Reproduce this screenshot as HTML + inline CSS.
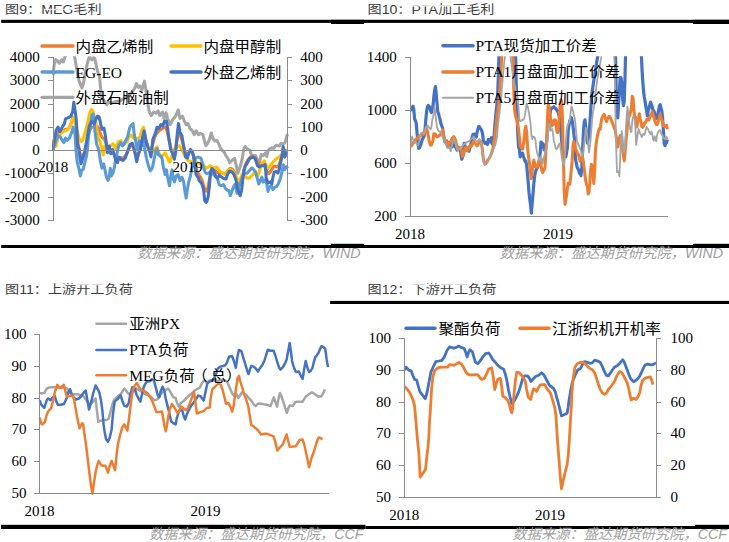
<!DOCTYPE html>
<html lang="zh"><head><meta charset="utf-8"><title>charts</title>
<style>html,body{margin:0;padding:0;background:#fff}svg{display:block}</style></head>
<body>
<svg width="729" height="542" viewBox="0 0 729 542">
<rect x="0" y="0" width="729" height="542" fill="#fff"/>
<text transform="translate(5,13.9) scale(1,0.87)" font-size="14.15" font-family='"Liberation Sans","Noto Sans CJK SC",sans-serif' fill="#3d3d3d">图9：MEG毛利</text>
<text transform="translate(367.5,13.9) scale(1,0.87)" font-size="14.15" font-family='"Liberation Sans","Noto Sans CJK SC",sans-serif' fill="#3d3d3d">图10：PTA加工毛利</text>
<text transform="translate(5,294.1) scale(1,0.87)" font-size="14.15" font-family='"Liberation Sans","Noto Sans CJK SC",sans-serif' fill="#3d3d3d">图11：上游开工负荷</text>
<text transform="translate(367.5,294.1) scale(1,0.87)" font-size="14.15" font-family='"Liberation Sans","Noto Sans CJK SC",sans-serif' fill="#3d3d3d">图12：下游开工负荷</text>
<rect x="44" y="8.8" width="30" height="1.2" fill="#fff" fill-opacity="0.8"/>
<rect x="400" y="5.0" width="70" height="1.6" fill="#fff" fill-opacity="0.8"/>
<rect x="58" y="284.0" width="50" height="1.2" fill="#fff" fill-opacity="0.8"/>
<rect x="402" y="284.0" width="68" height="1.2" fill="#fff" fill-opacity="0.8"/>
<rect x="1.2" y="19.8" width="727.8" height="3.1" fill="#000"/>
<rect x="331" y="19.8" width="33" height="4.2" fill="#000"/>
<rect x="693" y="19.8" width="36" height="4.2" fill="#000"/>
<rect x="1.2" y="245.0" width="727.8" height="3.0" fill="#000"/>
<rect x="331" y="243.8" width="33" height="4.2" fill="#000"/>
<rect x="693" y="243.8" width="36" height="4.2" fill="#000"/>
<rect x="330.1" y="300.9" width="398.9" height="3.1" fill="#000"/>
<rect x="1" y="524.8" width="364.5" height="4.2" fill="#000"/>
<rect x="365.5" y="526.0" width="363.5" height="3.0" fill="#000"/>
<rect x="695" y="524.8" width="34" height="4.2" fill="#000"/>
<text transform="translate(360.5,257.6) scale(1,1.0)" font-size="14.25" text-anchor="end" font-family='"Liberation Sans","Noto Sans CJK SC",sans-serif' fill="#a0a0a0" font-style="italic">数据来源：盛达期货研究院，WIND</text>
<text transform="translate(723,257.6) scale(1,1.0)" font-size="14.25" text-anchor="end" font-family='"Liberation Sans","Noto Sans CJK SC",sans-serif' fill="#a0a0a0" font-style="italic">数据来源：盛达期货研究院，WIND</text>
<text transform="translate(363.5,539) scale(1,1.0)" font-size="14.25" text-anchor="end" font-family='"Liberation Sans","Noto Sans CJK SC",sans-serif' fill="#a0a0a0" font-style="italic">数据来源：盛达期货研究院，CCF</text>
<text transform="translate(727,539) scale(1,1.0)" font-size="14.25" text-anchor="end" font-family='"Liberation Sans","Noto Sans CJK SC",sans-serif' fill="#a0a0a0" font-style="italic">数据来源：盛达期货研究院，CCF</text>
<defs><clipPath id="cp1"><rect x="52" y="56.3" width="237" height="172"/></clipPath><clipPath id="cp2"><rect x="410" y="56.3" width="260" height="165"/></clipPath></defs>
<g clip-path="url(#cp1)">
<polyline points="53.1,75.0 54.0,66.0 55.6,59.5 57.4,61.0 59.3,63.3 61.5,59.8 63.4,62.0 64.5,58.0 66.0,55.0 70.0,48.0 74.3,55.0 75.5,62.0 77.2,71.4 78.8,80.0 80.5,84.6 82.0,88.0 83.5,83.0 85.3,73.0 87.0,64.8 88.5,59.0 89.5,56.5 90.8,59.0 92.0,59.9 93.5,57.5 94.6,58.5 96.0,64.0 97.2,70.0 98.5,74.0 99.6,77.4 100.6,88.5 101.8,97.2 104.3,100.9 106.7,104.6 108.6,102.1 112.0,103.0 116.0,101.5 119.7,100.9 123.0,99.0 127.1,97.2 130.0,94.0 132.1,92.2 134.6,88.5 136.4,83.6 138.3,87.3 140.1,86.1 142.0,89.8 144.4,81.1 145.7,88.5 146.9,97.2 148.2,105.8 149.4,112.0 151.2,115.7 153.7,112.0 156.2,113.3 158.0,110.8 159.9,115.7 162.4,112.0 164.2,118.2 166.1,112.8 167.6,118.5 170.1,124.7 172.6,119.8 175.7,116.1 178.2,109.9 180.0,118.5 182.5,116.1 184.3,121.0 186.2,124.7 188.0,123.5 189.9,128.4 192.4,130.9 194.2,134.6 196.1,130.9 198.5,134.6 200.4,133.4 202.9,134.6 204.7,142.0 206.0,145.7 207.5,143.5 209.3,139.8 211.2,133.0 213.0,138.5 214.9,141.0 216.7,140.4 218.6,143.5 220.5,148.4 222.3,150.3 224.2,152.1 226.0,155.8 227.9,158.3 229.7,162.6 231.6,160.8 234.7,158.3 236.5,167.0 237.8,173.2 239.6,168.2 241.5,162.0 242.7,155.8 243.9,148.4 245.2,146.6 247.6,149.0 250.1,150.3 251.4,155.8 253.2,155.2 255.7,155.8 257.5,160.8 258.8,165.7 260.0,159.6 261.2,154.6 263.1,155.8 265.6,152.8 266.8,156.5 268.0,150.9 269.3,149.0 271.7,147.8 273.6,148.4 276.1,145.3 279.2,146.0 281.0,143.5 283.5,144.1 285.3,142.2 286.6,136.7 287.6,134.0" fill="none" stroke="#a5a5a5" stroke-width="3.05" stroke-linejoin="round" stroke-linecap="butt" />
<polyline points="53.0,146.8 54.2,142.6 55.4,138.0 56.6,134.3 57.8,132.8 59.0,132.6 60.2,132.7 61.4,132.2 62.6,131.2 63.8,130.2 65.0,129.5 66.2,129.3 67.4,129.2 68.6,128.5 69.8,126.7 71.0,123.6 72.2,119.9 73.4,117.3 74.6,118.6 75.8,124.8 77.0,134.1 78.2,143.8 79.4,151.1 80.6,155.9 81.8,157.1 83.0,155.8 84.2,152.4 85.4,147.8 86.6,142.6 87.8,137.2 89.0,132.5 90.2,129.3 91.4,127.5 92.6,127.0 93.8,126.8 95.0,126.3 96.2,125.7 97.4,126.2 98.6,128.4 99.8,132.0 101.0,135.5 102.2,137.4 103.4,138.2 104.6,139.8 105.8,142.8 107.0,146.3 108.2,148.7 109.4,149.7 110.6,150.6 111.8,151.2 113.0,152.5 114.2,154.4 115.4,156.8 116.6,158.2 117.8,158.4 119.0,157.8 120.2,157.6 121.4,157.8 122.6,158.0 123.8,157.6 125.0,156.3 126.2,154.2 127.4,151.6 128.6,149.0 129.8,146.7 131.0,145.6 132.2,146.0 133.4,148.1 134.6,151.3 135.8,154.3 137.0,155.4 138.2,154.2 139.4,151.3 140.6,147.5 141.8,143.0 143.0,139.5 144.2,138.1 145.4,139.9 146.6,143.2 147.8,146.9 149.0,149.7 150.2,150.5 151.4,148.8 152.6,144.7 153.8,140.3 155.0,136.6 156.2,134.1 157.4,132.3 158.6,131.1 159.8,130.3 161.0,129.6 162.2,128.8 163.4,127.8 164.6,127.0 165.8,127.7 167.0,130.8 168.2,136.1 169.4,142.0 170.6,147.2 171.8,151.1 173.0,153.4 174.2,153.2 175.4,149.4 176.6,142.9 177.8,136.8 179.0,134.0 180.2,135.0 181.4,138.1 182.6,142.5 183.8,147.2 185.0,151.6 186.2,154.2 187.4,154.7 188.6,153.4 189.8,151.8 191.0,151.3 192.2,152.8 193.4,156.4 194.6,161.4 195.8,166.7 197.0,170.8 198.2,173.5 199.4,175.5 200.6,177.3 201.8,179.8 203.0,183.3 204.2,187.5 205.4,190.7 206.6,191.0 207.8,187.8 209.0,181.7 210.2,174.9 211.4,169.8 212.6,167.7 213.8,168.3 215.0,170.2 216.2,171.8 217.4,172.6 218.6,172.5 219.8,172.3 221.0,172.4 222.2,173.0 223.4,173.6 224.6,173.7 225.8,173.1 227.0,171.7 228.2,170.0 229.4,168.8 230.6,168.4 231.8,168.9 233.0,170.0 234.2,171.9 235.4,174.8 236.6,178.4 237.8,182.1 239.0,184.7 240.2,185.0 241.4,182.0 242.6,176.5 243.8,170.4 245.0,165.7 246.2,162.7 247.4,160.7 248.6,159.0 249.8,157.7 251.0,156.8 252.2,156.4 253.4,156.6 254.6,157.6 255.8,159.3 257.0,161.3 258.2,162.8 259.4,163.6 260.6,163.6 261.8,163.3 263.0,163.3 264.2,164.5 265.4,167.3 266.6,171.0 267.8,173.3 269.0,173.5 270.2,172.1 271.4,170.1 272.6,168.0 273.8,166.4 275.0,166.0 276.2,166.6 277.4,166.9 278.6,165.9 279.8,162.9 281.0,158.6 282.2,155.0 283.4,152.9 284.6,152.3 285.8,150.4 287.0,150.0" fill="none" stroke="#ed7d31" stroke-width="3.05" stroke-linejoin="round" stroke-linecap="butt" />
<polyline points="52.8,139.0 54.4,147.0 56.1,145.9 57.7,139.2 60.5,133.7 63.3,131.5 66.0,130.4 68.3,129.3 70.5,126.0 72.7,118.2 73.8,117.1 75.0,121.0 76.5,128.2 79.3,139.2 81.5,141.5 83.2,139.2 85.4,131.5 87.6,122.7 89.8,112.7 91.5,109.4 93.1,111.6 94.2,116.0 95.4,118.2 96.5,128.2 98.1,138.1 99.8,141.5 102.0,148.3 103.1,155.0 104.2,151.6 104.8,146.0 107.0,147.5 110.3,146.0 113.1,143.8 115.3,148.3 116.4,145.0 118.6,141.6 120.8,140.5 122.5,144.8 125.0,143.3 126.9,142.0 128.7,137.1 131.0,135.0 133.5,138.0 135.5,139.6 137.4,138.3 139.8,137.1 141.7,130.9 143.5,127.2 145.4,137.1 147.2,144.5 149.7,149.4 152.8,151.9 155.3,148.2 157.1,147.0 159.0,153.2 160.8,156.9 162.7,155.6 165.2,152.8 167.0,156.5 168.9,161.4 170.1,162.0 171.4,157.3 174.4,149.4 176.9,147.0 179.4,145.7 181.2,148.2 183.0,152.0 185.5,157.0 188.0,160.6 191.7,161.8 195.0,162.5 198.0,163.0 201.0,164.0 204.1,166.0 206.0,168.4 207.8,167.2 209.9,165.7 212.4,167.0 214.9,168.2 216.7,167.0 218.6,169.4 220.5,171.9 222.9,173.2 224.8,174.4 227.2,171.9 229.7,169.4 232.2,170.7 234.7,174.4 236.5,178.1 238.4,180.6 240.2,179.3 242.1,174.4 244.6,175.6 247.0,178.1 249.5,178.1 252.0,175.6 253.8,173.2 255.7,173.2 258.2,175.6 260.0,169.4 261.9,163.3 264.3,160.8 266.2,165.7 268.0,168.2 270.5,165.7 273.0,162.0 276.1,158.9 279.2,157.1 281.0,155.2 284.0,152.0 286.6,155.8 287.5,156.0" fill="none" stroke="#ffc000" stroke-width="3.05" stroke-linejoin="round" stroke-linecap="butt" />
<polyline points="53.0,150.0 54.0,146.0 56.0,140.0 58.3,135.9 60.5,137.0 62.2,140.4 63.8,142.6 65.5,138.1 67.1,140.4 69.4,138.1 71.6,132.6 73.2,127.1 74.9,133.5 76.0,149.4 77.1,161.5 78.8,168.2 80.4,175.9 81.5,170.4 83.2,169.3 84.8,162.7 86.5,156.0 87.6,147.0 88.6,136.0 90.4,124.9 92.0,114.9 93.1,113.8 94.2,120.4 94.8,130.0 96.5,143.8 98.7,149.4 100.3,160.4 102.0,168.2 103.7,163.8 105.3,171.5 106.4,177.0 108.1,180.4 109.2,177.0 110.3,168.2 111.4,175.9 113.1,172.6 114.2,168.2 115.3,161.5 116.4,157.1 117.5,150.5 119.1,145.0 120.8,142.7 122.5,146.0 124.1,143.8 126.0,140.0 127.5,137.1 129.9,127.2 133.0,123.5 134.3,134.6 136.1,143.3 137.4,149.4 139.2,140.8 141.1,145.7 142.9,137.1 144.2,142.0 144.8,149.9 146.6,158.5 148.5,166.0 150.3,170.9 152.2,168.4 154.0,159.8 155.9,151.1 157.1,148.7 158.4,154.8 160.8,156.1 162.1,158.5 163.3,167.2 165.2,174.6 166.4,169.7 167.6,177.1 169.5,185.7 170.7,177.1 172.0,169.7 173.2,178.3 174.4,182.0 176.3,175.8 178.2,174.6 180.0,180.8 181.9,177.1 183.7,182.0 185.0,191.9 186.2,198.1 187.4,189.4 188.7,182.0 190.5,175.8 191.7,168.4 193.6,164.7 195.5,158.5 196.7,157.3 199.2,157.3 201.0,158.5 202.3,162.2 204.1,169.7 205.5,173.0 207.5,173.5 209.9,172.2 213.0,174.0 217.4,178.4 219.2,184.6 221.1,185.8 223.5,184.6 225.4,188.3 227.2,190.2 229.1,190.8 230.3,195.7 231.6,192.0 233.4,187.1 234.7,184.6 235.9,188.3 237.1,193.3 239.0,185.8 240.8,182.1 242.7,176.0 244.6,173.5 247.6,172.9 250.1,169.8 252.0,167.9 253.8,169.8 255.7,172.2 256.9,177.2 258.8,184.0 260.6,179.7 261.9,177.2 263.1,182.1 265.6,179.7 266.8,184.6 268.0,191.4 269.3,187.1 271.1,185.8 273.0,189.6 274.8,187.1 276.7,186.5 278.5,183.4 280.4,178.4 282.3,169.8 283.5,164.8 284.7,169.8 286.6,166.7 287.6,168.5" fill="none" stroke="#5b9bd5" stroke-width="3.05" stroke-linejoin="round" stroke-linecap="butt" />
<polyline points="53.0,150.0 53.9,142.6 56.1,130.4 58.0,127.1 60.0,131.5 62.2,127.1 64.4,123.8 65.5,118.8 68.3,117.7 71.0,116.0 72.7,111.6 73.8,102.2 74.9,109.4 76.0,117.1 76.8,128.0 77.7,146.0 79.3,149.4 79.9,157.1 81.0,163.8 82.1,160.4 83.2,157.1 84.8,151.6 86.5,142.0 88.0,133.0 89.3,126.0 91.5,121.5 93.1,122.7 94.2,123.8 95.9,119.3 97.6,116.0 99.2,117.1 100.9,124.9 102.0,129.3 104.0,128.2 105.3,135.0 106.4,143.8 107.5,152.7 109.2,146.0 110.8,153.8 112.5,149.4 114.2,154.9 115.8,160.4 117.5,162.7 119.1,157.1 120.8,159.3 123.0,160.4 125.0,158.5 127.5,151.9 129.9,144.5 132.4,143.3 134.3,149.4 136.7,161.8 138.6,153.2 140.5,149.4 142.3,138.3 144.2,130.9 146.0,140.8 147.9,147.0 149.7,151.9 151.0,156.9 152.8,139.6 155.3,133.4 157.1,127.2 159.0,128.4 160.8,124.7 162.7,126.0 164.6,121.0 166.4,121.0 167.6,128.4 168.9,138.3 170.7,149.4 172.6,153.2 174.4,159.3 175.7,151.9 176.9,137.1 178.5,123.5 180.0,132.1 181.9,135.8 183.1,143.3 184.3,149.4 185.6,156.9 187.4,158.1 188.7,153.2 190.5,149.4 192.4,151.9 193.6,156.0 194.8,164.7 196.1,174.6 197.9,177.1 199.2,180.8 201.6,183.3 203.5,189.4 204.7,200.6 206.0,202.4 206.9,201.3 208.1,197.0 209.3,187.1 210.6,172.2 211.8,168.5 213.7,170.4 215.5,176.0 217.4,178.4 219.2,175.3 221.1,176.6 223.5,178.4 226.0,179.0 227.9,173.5 229.7,171.0 232.2,172.2 234.0,174.7 235.9,179.7 237.1,187.1 238.4,190.8 240.2,195.7 241.5,190.8 242.7,180.9 243.9,171.0 245.2,166.1 247.0,163.6 249.5,158.7 252.6,157.0 255.1,158.3 256.3,162.0 257.5,165.7 259.4,167.0 261.2,165.7 263.1,165.7 265.0,164.5 265.6,169.4 266.2,178.1 268.0,183.0 270.5,181.8 271.8,184.0 273.0,177.0 274.2,172.0 276.0,171.6 277.9,173.0 279.2,169.4 281.0,160.8 282.3,153.4 283.1,146.6 284.7,157.1 286.0,153.4 287.2,152.1" fill="none" stroke="#4472c4" stroke-width="3.05" stroke-linejoin="round" stroke-linecap="butt" />
</g>
<rect x="53" y="57" width="1" height="164.0" fill="#8c8c8c"/>
<rect x="287" y="57" width="1" height="164.0" fill="#8c8c8c"/>
<rect x="53" y="150" width="234" height="1" fill="#8c8c8c"/>
<rect x="48" y="57" width="5" height="1" fill="#8c8c8c"/>
<rect x="287" y="57" width="5" height="1" fill="#8c8c8c"/>
<text transform="translate(39.8,61.85) scale(1,0.93)" font-size="15.05" text-anchor="end" font-family='"Liberation Serif","Noto Sans CJK SC",serif' fill="#000" >4000</text>
<text transform="translate(300.3,61.85) scale(1,0.93)" font-size="15.05" text-anchor="start" font-family='"Liberation Serif","Noto Sans CJK SC",serif' fill="#000" >400</text>
<rect x="48" y="80" width="5" height="1" fill="#8c8c8c"/>
<rect x="287" y="80" width="5" height="1" fill="#8c8c8c"/>
<text transform="translate(39.8,84.85) scale(1,0.93)" font-size="15.05" text-anchor="end" font-family='"Liberation Serif","Noto Sans CJK SC",serif' fill="#000" >3000</text>
<text transform="translate(300.3,84.85) scale(1,0.93)" font-size="15.05" text-anchor="start" font-family='"Liberation Serif","Noto Sans CJK SC",serif' fill="#000" >300</text>
<rect x="48" y="104" width="5" height="1" fill="#8c8c8c"/>
<rect x="287" y="104" width="5" height="1" fill="#8c8c8c"/>
<text transform="translate(39.8,108.85) scale(1,0.93)" font-size="15.05" text-anchor="end" font-family='"Liberation Serif","Noto Sans CJK SC",serif' fill="#000" >2000</text>
<text transform="translate(300.3,108.85) scale(1,0.93)" font-size="15.05" text-anchor="start" font-family='"Liberation Serif","Noto Sans CJK SC",serif' fill="#000" >200</text>
<rect x="48" y="127" width="5" height="1" fill="#8c8c8c"/>
<rect x="287" y="127" width="5" height="1" fill="#8c8c8c"/>
<text transform="translate(39.8,131.85) scale(1,0.93)" font-size="15.05" text-anchor="end" font-family='"Liberation Serif","Noto Sans CJK SC",serif' fill="#000" >1000</text>
<text transform="translate(300.3,131.85) scale(1,0.93)" font-size="15.05" text-anchor="start" font-family='"Liberation Serif","Noto Sans CJK SC",serif' fill="#000" >100</text>
<rect x="48" y="150" width="5" height="1" fill="#8c8c8c"/>
<rect x="287" y="150" width="5" height="1" fill="#8c8c8c"/>
<text transform="translate(39.8,154.85) scale(1,0.93)" font-size="15.05" text-anchor="end" font-family='"Liberation Serif","Noto Sans CJK SC",serif' fill="#000" >0</text>
<text transform="translate(300.3,154.85) scale(1,0.93)" font-size="15.05" text-anchor="start" font-family='"Liberation Serif","Noto Sans CJK SC",serif' fill="#000" >0</text>
<rect x="48" y="173" width="5" height="1" fill="#8c8c8c"/>
<rect x="287" y="173" width="5" height="1" fill="#8c8c8c"/>
<text transform="translate(39.8,177.85) scale(1,0.93)" font-size="15.05" text-anchor="end" font-family='"Liberation Serif","Noto Sans CJK SC",serif' fill="#000" >-1000</text>
<text transform="translate(300.3,177.85) scale(1,0.93)" font-size="15.05" text-anchor="start" font-family='"Liberation Serif","Noto Sans CJK SC",serif' fill="#000" >-100</text>
<rect x="48" y="197" width="5" height="1" fill="#8c8c8c"/>
<rect x="287" y="197" width="5" height="1" fill="#8c8c8c"/>
<text transform="translate(39.8,201.85) scale(1,0.93)" font-size="15.05" text-anchor="end" font-family='"Liberation Serif","Noto Sans CJK SC",serif' fill="#000" >-2000</text>
<text transform="translate(300.3,201.85) scale(1,0.93)" font-size="15.05" text-anchor="start" font-family='"Liberation Serif","Noto Sans CJK SC",serif' fill="#000" >-200</text>
<rect x="48" y="220" width="5" height="1" fill="#8c8c8c"/>
<rect x="287" y="220" width="5" height="1" fill="#8c8c8c"/>
<text transform="translate(39.8,224.85) scale(1,0.93)" font-size="15.05" text-anchor="end" font-family='"Liberation Serif","Noto Sans CJK SC",serif' fill="#000" >-3000</text>
<text transform="translate(300.3,224.85) scale(1,0.93)" font-size="15.05" text-anchor="start" font-family='"Liberation Serif","Noto Sans CJK SC",serif' fill="#000" >-300</text>
<text transform="translate(53.2,172.4) scale(1,0.93)" font-size="15.05" text-anchor="middle" font-family='"Liberation Serif","Noto Sans CJK SC",serif' fill="#000" >2018</text>
<text transform="translate(187.5,172.4) scale(1,0.93)" font-size="15.05" text-anchor="middle" font-family='"Liberation Serif","Noto Sans CJK SC",serif' fill="#000" >2019</text>
<line x1="42" y1="46" x2="73" y2="46" stroke="#ed7d31" stroke-width="3.3" stroke-linecap="round"/>
<text transform="translate(75.5,51.5) scale(1,0.93)" font-size="15.55" text-anchor="start" font-family='"Liberation Serif","Noto Sans CJK SC",serif' fill="#000" >内盘乙烯制</text>
<line x1="171" y1="46" x2="201" y2="46" stroke="#ffc000" stroke-width="3.3" stroke-linecap="round"/>
<text transform="translate(203.5,51.5) scale(1,0.93)" font-size="15.55" text-anchor="start" font-family='"Liberation Serif","Noto Sans CJK SC",serif' fill="#000" >内盘甲醇制</text>
<line x1="42" y1="72" x2="73" y2="72" stroke="#5b9bd5" stroke-width="3.3" stroke-linecap="round"/>
<text transform="translate(75.5,77.5) scale(1,0.93)" font-size="15.55" text-anchor="start" font-family='"Liberation Serif","Noto Sans CJK SC",serif' fill="#000" >EG-EO</text>
<line x1="171" y1="72" x2="201" y2="72" stroke="#4472c4" stroke-width="3.3" stroke-linecap="round"/>
<text transform="translate(203.5,77.5) scale(1,0.93)" font-size="15.55" text-anchor="start" font-family='"Liberation Serif","Noto Sans CJK SC",serif' fill="#000" >外盘乙烯制</text>
<line x1="42" y1="97.3" x2="73" y2="97.3" stroke="#a5a5a5" stroke-width="3.3" stroke-linecap="round"/>
<text transform="translate(75.5,102.8) scale(1,0.93)" font-size="15.55" text-anchor="start" font-family='"Liberation Serif","Noto Sans CJK SC",serif' fill="#000" >外盘石脑油制</text>
<g clip-path="url(#cp2)">
<polyline points="410.6,111.2 411.4,108.2 412.2,107.1 413.0,106.2 413.8,109.5 414.6,118.9 415.4,120.7 416.2,122.9 417.0,132.5 417.8,140.8 418.6,148.4 419.4,148.0 420.2,145.9 421.0,144.4 421.8,141.0 422.6,138.9 423.4,137.7 424.2,135.9 425.0,129.6 425.8,119.8 426.6,111.5 427.4,107.0 428.2,105.5 429.0,106.2 429.8,107.1 430.6,110.7 431.4,112.5 432.2,110.0 433.0,105.8 433.8,97.1 434.6,90.5 435.4,86.5 436.2,93.6 437.0,103.1 437.8,111.8 438.6,113.8 439.4,117.1 440.2,119.7 441.0,123.9 441.8,125.9 442.6,128.1 443.4,134.5 444.2,138.5 445.0,142.1 445.8,142.2 446.6,140.9 447.4,142.7 448.2,145.5 449.0,142.9 449.8,142.4 450.6,144.1 451.4,146.1 452.2,146.7 453.0,142.3 453.8,138.2 454.6,140.9 455.4,147.1 456.2,147.9 457.0,150.1 457.8,147.6 458.6,148.2 459.4,148.8 460.2,148.7 461.0,154.2 461.8,159.2 462.6,157.1 463.4,151.7 464.2,143.4 465.0,145.9 465.8,149.5 466.6,148.8 467.4,150.7 468.2,150.3 469.0,151.2 469.8,148.0 470.6,145.7 471.4,141.5 472.2,137.0 473.0,134.4 473.8,135.9 474.6,134.1 475.4,136.4 476.2,137.1 477.0,132.7 477.8,129.7 478.6,126.6 479.4,126.6 480.2,128.4 481.0,129.1 481.8,130.7 482.6,134.2 483.4,141.1 484.2,141.8 485.0,143.3 485.8,143.3 486.6,142.4 487.4,144.5 488.2,139.7 489.0,141.4 489.8,139.9 490.6,142.2 491.4,137.7 492.2,143.9 493.0,139.4 493.8,140.6 494.6,128.9 495.4,119.2 496.2,110.9 497.0,104.3 497.8,91.3 498.6,69.6 499.4,36.5 500.2,29.7 501.0,30.5 501.8,29.5 502.6,30.4 503.4,30.6 504.2,30.4 505.0,29.4 505.8,31.0 506.6,29.5 507.4,30.3 508.2,29.4 509.0,28.7 509.8,30.2 510.6,30.2 511.4,29.9 512.2,30.2 513.0,29.5 513.8,29.4 514.6,29.9 515.4,46.4 516.2,80.6 517.0,112.1 517.8,134.2 518.6,147.1 519.4,149.2 520.2,156.8 521.0,155.0 521.8,153.3 522.6,153.1 523.4,156.1 524.2,158.7 525.0,161.4 525.8,161.0 526.6,165.0 527.4,173.0 528.2,182.0 529.0,192.4 529.8,199.5 530.6,205.3 531.4,213.2 532.2,202.8 533.0,194.0 533.8,183.8 534.6,176.6 535.4,171.9 536.2,169.9 537.0,168.2 537.8,166.9 538.6,162.4 539.4,160.0 540.2,153.1 541.0,142.1 541.8,142.7 542.6,143.6 543.4,145.5 544.2,149.9 545.0,150.2 545.8,146.5 546.6,141.7 547.4,133.1 548.2,126.1 549.0,119.6 549.8,114.7 550.6,110.4 551.4,108.3 552.2,107.7 553.0,107.7 553.8,106.8 554.6,107.9 555.4,108.4 556.2,108.8 557.0,110.6 557.8,111.3 558.6,113.8 559.4,116.7 560.2,123.5 561.0,132.4 561.8,142.1 562.6,150.8 563.4,153.4 564.2,157.2 565.0,157.0 565.8,156.7 566.6,152.5 567.4,147.3 568.2,130.9 569.0,125.0 569.8,120.9 570.6,119.2 571.4,117.7 572.2,120.9 573.0,126.2 573.8,133.6 574.6,139.6 575.4,158.0 576.2,162.9 577.0,166.7 577.8,168.7 578.6,169.9 579.4,173.0 580.2,172.7 581.0,175.7 581.8,167.2 582.6,150.2 583.4,132.3 584.2,122.1 585.0,119.8 585.8,127.6 586.6,135.3 587.4,143.2 588.2,138.7 589.0,134.2 589.8,124.6 590.6,112.1 591.4,99.6 592.2,91.2 593.0,86.1 593.8,80.6 594.6,76.7 595.4,71.2 596.2,65.2 597.0,60.4 597.8,56.0 598.6,46.2 599.4,30.2 600.2,29.7 601.0,30.1 601.8,29.0 602.6,29.9 603.4,31.4 604.2,30.8 605.0,30.5 605.8,30.8 606.6,31.4 607.4,30.4 608.2,31.4 609.0,30.8 609.8,30.1 610.6,31.3 611.4,28.6 612.2,29.6 613.0,30.2 613.8,29.3 614.6,29.9 615.4,47.1 616.2,89.5 617.0,109.1 617.8,118.0 618.6,103.5 619.4,91.4 620.2,77.4 621.0,77.8 621.8,83.4 622.6,97.5 623.4,105.7 624.2,101.8 625.0,77.8 625.8,43.8 626.6,30.8 627.4,29.3 628.2,31.2 629.0,30.4 629.8,30.5 630.6,30.1 631.4,30.7 632.2,28.6 633.0,30.1 633.8,29.5 634.6,30.2 635.4,30.0 636.2,30.5 637.0,29.4 637.8,31.4 638.6,31.4 639.4,29.8 640.2,30.0 641.0,44.9 641.8,65.2 642.6,79.2 643.4,89.3 644.2,96.5 645.0,101.1 645.8,106.0 646.6,110.6 647.4,115.9 648.2,110.5 649.0,108.4 649.8,105.0 650.6,102.2 651.4,104.3 652.2,106.7 653.0,110.4 653.8,110.9 654.6,112.9 655.4,116.5 656.2,118.4 657.0,116.0 657.8,116.0 658.6,110.3 659.4,105.8 660.2,104.6 661.0,107.8 661.8,111.0 662.6,118.2 663.4,131.1 664.2,143.4 665.0,145.7 665.8,142.4 666.6,142.7 667.4,139.5" fill="none" stroke="#4472c4" stroke-width="3.2" stroke-linejoin="round" stroke-linecap="butt" />
<polyline points="410.6,147.3 411.4,145.1 412.2,144.9 413.0,142.5 413.8,142.0 414.6,142.1 415.4,139.7 416.2,139.1 417.0,138.8 417.8,137.7 418.6,136.3 419.4,136.1 420.2,135.4 421.0,135.6 421.8,133.8 422.6,133.8 423.4,134.2 424.2,133.9 425.0,130.7 425.8,130.5 426.6,127.8 427.4,131.7 428.2,135.6 429.0,140.0 429.8,143.3 430.6,145.1 431.4,144.9 432.2,143.0 433.0,140.4 433.8,133.7 434.6,133.8 435.4,134.3 436.2,135.8 437.0,136.9 437.8,136.6 438.6,136.2 439.4,135.4 440.2,135.1 441.0,133.0 441.8,132.5 442.6,129.7 443.4,135.8 444.2,138.2 445.0,140.5 445.8,141.0 446.6,141.6 447.4,142.6 448.2,144.2 449.0,145.2 449.8,143.2 450.6,142.0 451.4,140.0 452.2,138.0 453.0,137.5 453.8,136.7 454.6,137.9 455.4,139.7 456.2,144.0 457.0,146.6 457.8,148.1 458.6,147.2 459.4,147.6 460.2,147.9 461.0,148.6 461.8,153.2 462.6,156.6 463.4,155.2 464.2,152.1 465.0,148.1 465.8,147.8 466.6,147.2 467.4,150.4 468.2,149.6 469.0,147.1 469.8,146.0 470.6,145.4 471.4,146.4 472.2,144.3 473.0,142.0 473.8,140.9 474.6,143.3 475.4,143.4 476.2,144.7 477.0,145.8 477.8,145.1 478.6,143.0 479.4,140.5 480.2,141.3 481.0,141.5 481.8,145.2 482.6,152.0 483.4,159.6 484.2,162.3 485.0,163.5 485.8,163.3 486.6,162.9 487.4,160.9 488.2,159.4 489.0,158.5 489.8,157.0 490.6,155.6 491.4,153.6 492.2,150.8 493.0,147.8 493.8,142.8 494.6,138.4 495.4,131.2 496.2,124.9 497.0,115.6 497.8,111.2 498.6,105.0 499.4,95.8 500.2,83.6 501.0,69.8 501.8,55.7 502.6,29.2 503.4,30.3 504.2,31.2 505.0,29.0 505.8,30.0 506.6,30.9 507.4,30.4 508.2,29.8 509.0,29.1 509.8,28.8 510.6,29.5 511.4,29.8 512.2,28.8 513.0,55.9 513.8,90.2 514.6,110.2 515.4,115.2 516.2,118.3 517.0,120.1 517.8,124.4 518.6,129.7 519.4,137.1 520.2,146.2 521.0,147.0 521.8,148.3 522.6,149.2 523.4,144.1 524.2,138.3 525.0,129.5 525.8,126.3 526.6,131.9 527.4,144.4 528.2,154.5 529.0,160.0 529.8,165.5 530.6,173.2 531.4,178.7 532.2,171.1 533.0,165.9 533.8,160.1 534.6,163.3 535.4,166.6 536.2,167.0 537.0,167.3 537.8,165.6 538.6,162.6 539.4,159.7 540.2,158.0 541.0,164.7 541.8,170.3 542.6,172.6 543.4,171.0 544.2,169.9 545.0,167.1 545.8,153.4 546.6,140.3 547.4,119.5 548.2,104.0 549.0,106.5 549.8,112.7 550.6,119.0 551.4,126.1 552.2,125.1 553.0,124.8 553.8,120.8 554.6,119.8 555.4,120.1 556.2,125.3 557.0,132.3 557.8,132.4 558.6,126.3 559.4,113.9 560.2,104.7 561.0,99.7 561.8,102.8 562.6,122.7 563.4,158.6 564.2,190.7 565.0,204.4 565.8,199.7 566.6,195.1 567.4,188.4 568.2,183.2 569.0,183.8 569.8,184.2 570.6,177.5 571.4,168.8 572.2,160.2 573.0,146.0 573.8,141.3 574.6,144.7 575.4,148.6 576.2,150.2 577.0,151.9 577.8,154.9 578.6,154.7 579.4,158.7 580.2,161.3 581.0,160.0 581.8,157.5 582.6,157.2 583.4,161.9 584.2,168.8 585.0,175.3 585.8,181.2 586.6,184.4 587.4,186.6 588.2,194.1 589.0,191.7 589.8,183.2 590.6,170.3 591.4,164.3 592.2,166.4 593.0,174.0 593.8,183.7 594.6,171.3 595.4,151.4 596.2,143.6 597.0,138.3 597.8,134.1 598.6,130.7 599.4,128.5 600.2,129.2 601.0,122.8 601.8,118.4 602.6,117.0 603.4,115.2 604.2,114.4 605.0,116.9 605.8,119.8 606.6,121.5 607.4,118.5 608.2,117.8 609.0,116.4 609.8,116.8 610.6,118.0 611.4,120.2 612.2,122.2 613.0,124.5 613.8,126.8 614.6,128.6 615.4,130.8 616.2,136.7 617.0,142.0 617.8,147.0 618.6,143.1 619.4,138.0 620.2,135.6 621.0,139.2 621.8,144.1 622.6,149.8 623.4,155.2 624.2,160.9 625.0,153.2 625.8,143.5 626.6,134.4 627.4,126.0 628.2,119.9 629.0,116.4 629.8,115.5 630.6,111.6 631.4,108.2 632.2,96.3 633.0,97.5 633.8,108.5 634.6,116.7 635.4,117.0 636.2,122.8 637.0,126.9 637.8,121.1 638.6,118.4 639.4,113.8 640.2,119.1 641.0,121.8 641.8,126.8 642.6,127.4 643.4,126.1 644.2,124.0 645.0,122.6 645.8,122.3 646.6,119.6 647.4,119.2 648.2,119.0 649.0,119.9 649.8,117.4 650.6,115.3 651.4,114.0 652.2,111.7 653.0,114.3 653.8,117.0 654.6,120.2 655.4,122.4 656.2,124.2 657.0,124.7 657.8,123.4 658.6,119.4 659.4,116.6 660.2,114.3 661.0,117.2 661.8,120.0 662.6,121.9 663.4,125.9 664.2,126.0 665.0,126.6 665.8,125.7 666.6,125.4 667.4,129.3" fill="none" stroke="#ed7d31" stroke-width="3.05" stroke-linejoin="round" stroke-linecap="butt" />
<polyline points="410.6,142.7 411.4,138.8 412.2,136.4 413.0,139.8 413.8,140.8 414.6,142.2 415.4,142.8 416.2,142.7 417.0,144.8 417.8,145.7 418.6,143.6 419.4,140.6 420.2,135.6 421.0,133.1 421.8,132.9 422.6,132.3 423.4,133.4 424.2,133.4 425.0,130.2 425.8,127.1 426.6,127.0 427.4,125.5 428.2,125.8 429.0,127.3 429.8,128.2 430.6,129.4 431.4,127.4 432.2,120.3 433.0,117.5 433.8,112.8 434.6,107.2 435.4,114.1 436.2,120.3 437.0,127.8 437.8,129.0 438.6,131.1 439.4,131.4 440.2,131.9 441.0,132.4 441.8,134.5 442.6,137.2 443.4,138.5 444.2,140.7 445.0,142.4 445.8,144.2 446.6,146.4 447.4,148.1 448.2,148.2 449.0,147.3 449.8,148.6 450.6,151.2 451.4,148.1 452.2,144.9 453.0,141.7 453.8,138.2 454.6,140.5 455.4,142.7 456.2,146.8 457.0,149.1 457.8,151.0 458.6,149.8 459.4,148.7 460.2,148.6 461.0,148.5 461.8,146.9 462.6,145.9 463.4,145.0 464.2,144.2 465.0,143.7 465.8,142.5 466.6,142.8 467.4,141.6 468.2,141.4 469.0,141.5 469.8,140.9 470.6,139.4 471.4,138.7 472.2,138.3 473.0,137.4 473.8,136.7 474.6,138.7 475.4,139.8 476.2,140.7 477.0,141.2 477.8,141.1 478.6,139.6 479.4,139.1 480.2,141.1 481.0,142.6 481.8,146.8 482.6,153.0 483.4,162.1 484.2,164.0 485.0,165.1 485.8,164.4 486.6,163.3 487.4,162.7 488.2,160.7 489.0,158.6 489.8,156.9 490.6,155.2 491.4,154.0 492.2,152.5 493.0,149.8 493.8,148.6 494.6,146.2 495.4,144.6 496.2,141.4 497.0,136.8 497.8,126.8 498.6,119.7 499.4,113.3 500.2,107.0 501.0,100.2 501.8,89.5 502.6,80.1 503.4,71.0 504.2,62.8 505.0,57.1 505.8,53.8 506.6,52.7 507.4,53.8 508.2,55.0 509.0,53.6 509.8,52.3 510.6,57.1 511.4,63.4 512.2,69.7 513.0,76.4 513.8,81.6 514.6,85.0 515.4,89.0 516.2,92.7 517.0,96.5 517.8,99.6 518.6,109.1 519.4,119.8 520.2,121.2 521.0,120.4 521.8,120.7 522.6,119.7 523.4,119.6 524.2,118.6 525.0,115.1 525.8,109.3 526.6,103.7 527.4,105.2 528.2,108.8 529.0,113.0 529.8,117.9 530.6,124.0 531.4,135.3 532.2,139.1 533.0,136.7 533.8,136.6 534.6,137.4 535.4,139.3 536.2,147.6 537.0,151.9 537.8,155.3 538.6,157.6 539.4,161.3 540.2,159.6 541.0,156.1 541.8,159.8 542.6,163.6 543.4,159.6 544.2,156.8 545.0,152.4 545.8,149.6 546.6,149.2 547.4,142.1 548.2,132.3 549.0,123.6 549.8,124.0 550.6,130.7 551.4,130.1 552.2,128.9 553.0,133.5 553.8,140.7 554.6,143.5 555.4,146.9 556.2,149.4 557.0,148.7 557.8,147.2 558.6,144.9 559.4,143.5 560.2,146.3 561.0,151.4 561.8,157.2 562.6,161.4 563.4,163.7 564.2,164.9 565.0,156.0 565.8,143.9 566.6,131.6 567.4,126.0 568.2,124.2 569.0,122.7 569.8,120.2 570.6,112.3 571.4,106.3 572.2,107.6 573.0,111.3 573.8,114.7 574.6,117.6 575.4,123.3 576.2,132.9 577.0,140.9 577.8,143.2 578.6,145.0 579.4,146.9 580.2,148.9 581.0,151.2 581.8,155.4 582.6,156.5 583.4,151.2 584.2,144.3 585.0,136.0 585.8,128.0 586.6,129.9 587.4,138.3 588.2,145.1 589.0,152.5 589.8,147.7 590.6,139.5 591.4,129.0 592.2,119.3 593.0,111.9 593.8,108.4 594.6,102.0 595.4,94.5 596.2,88.0 597.0,81.8 597.8,76.7 598.6,72.0 599.4,68.0 600.2,63.4 601.0,58.6 601.8,54.1 602.6,49.9 603.4,47.3 604.2,48.5 605.0,48.0 605.8,48.3 606.6,47.5 607.4,48.5 608.2,47.8 609.0,48.0 609.8,47.4 610.6,47.9 611.4,47.9 612.2,47.9 613.0,48.2 613.8,51.8 614.6,61.8 615.4,112.1 616.2,148.3 617.0,172.2 617.8,171.0 618.6,172.0 619.4,176.4 620.2,158.2 621.0,136.6 621.8,131.1 622.6,137.1 623.4,148.4 624.2,152.2 625.0,147.4 625.8,129.6 626.6,117.0 627.4,106.7 628.2,112.4 629.0,119.9 629.8,127.0 630.6,131.9 631.4,131.9 632.2,122.0 633.0,116.8 633.8,116.7 634.6,118.4 635.4,128.9 636.2,145.0 637.0,139.0 637.8,133.8 638.6,128.9 639.4,131.5 640.2,133.6 641.0,135.1 641.8,137.2 642.6,134.7 643.4,133.7 644.2,134.7 645.0,133.3 645.8,129.9 646.6,126.9 647.4,128.2 648.2,129.1 649.0,131.7 649.8,132.8 650.6,134.1 651.4,131.4 652.2,133.8 653.0,139.2 653.8,140.8 654.6,136.3 655.4,139.1 656.2,141.3 657.0,135.3 657.8,132.8 658.6,131.6 659.4,130.1 660.2,130.3 661.0,132.7 661.8,134.6 662.6,135.8 663.4,137.8 664.2,138.1 665.0,139.3 665.8,137.8 666.6,136.7 667.4,139.7" fill="none" stroke="#a5a5a5" stroke-width="1.8" stroke-linejoin="round" stroke-linecap="butt" />
</g>
<rect x="410" y="57" width="1" height="160" fill="#8c8c8c"/>
<rect x="410" y="216" width="258" height="1" fill="#8c8c8c"/>
<rect x="405" y="57" width="5" height="1" fill="#8c8c8c"/>
<text transform="translate(396.8,61.550000000000004) scale(1,0.93)" font-size="15.05" text-anchor="end" font-family='"Liberation Serif","Noto Sans CJK SC",serif' fill="#000" >1400</text>
<rect x="405" y="110" width="5" height="1" fill="#8c8c8c"/>
<text transform="translate(396.8,114.55) scale(1,0.93)" font-size="15.05" text-anchor="end" font-family='"Liberation Serif","Noto Sans CJK SC",serif' fill="#000" >1000</text>
<rect x="405" y="163" width="5" height="1" fill="#8c8c8c"/>
<text transform="translate(396.8,167.54999999999998) scale(1,0.93)" font-size="15.05" text-anchor="end" font-family='"Liberation Serif","Noto Sans CJK SC",serif' fill="#000" >600</text>
<rect x="405" y="216" width="5" height="1" fill="#8c8c8c"/>
<text transform="translate(396.8,220.54999999999998) scale(1,0.93)" font-size="15.05" text-anchor="end" font-family='"Liberation Serif","Noto Sans CJK SC",serif' fill="#000" >200</text>
<text transform="translate(410,238.7) scale(1,0.93)" font-size="15.05" text-anchor="middle" font-family='"Liberation Serif","Noto Sans CJK SC",serif' fill="#000" >2018</text>
<text transform="translate(558,238.7) scale(1,0.93)" font-size="15.05" text-anchor="middle" font-family='"Liberation Serif","Noto Sans CJK SC",serif' fill="#000" >2019</text>
<line x1="443" y1="45.7" x2="473" y2="45.7" stroke="#4472c4" stroke-width="3.6" stroke-linecap="round"/>
<text transform="translate(475.5,51.1) scale(1,0.93)" font-size="15.55" text-anchor="start" font-family='"Liberation Serif","Noto Sans CJK SC",serif' fill="#000" >PTA现货加工价差</text>
<line x1="443" y1="72" x2="473" y2="72" stroke="#ed7d31" stroke-width="3.6" stroke-linecap="round"/>
<text transform="translate(475.5,77.4) scale(1,0.93)" font-size="15.55" text-anchor="start" font-family='"Liberation Serif","Noto Sans CJK SC",serif' fill="#000" >PTA1月盘面加工价差</text>
<line x1="443" y1="97.8" x2="473" y2="97.8" stroke="#a5a5a5" stroke-width="2.1" stroke-linecap="round"/>
<text transform="translate(475.5,103.2) scale(1,0.93)" font-size="15.55" text-anchor="start" font-family='"Liberation Serif","Noto Sans CJK SC",serif' fill="#000" >PTA5月盘面加工价差</text>
<polyline points="39.7,392.9 41.8,393.5 44.3,392.9 46.7,388.6 49.2,387.4 53.5,387.0 57.2,387.4 60.3,388.0 64.0,387.4 67.1,388.6 69.6,392.3 72.1,394.8 74.6,394.2 77.6,394.2 80.7,395.4 83.8,396.6 86.9,401.0 90.0,404.7 93.1,401.6 95.6,398.5 96.8,409.6 98.3,422.0 100.5,420.7 103.6,420.1 106.1,420.1 108.5,418.9 110.4,412.1 112.3,404.7 114.1,399.7 117.5,396.6 120.6,394.2 124.3,388.6 127.4,392.3 130.5,395.4 133.5,391.1 136.6,388.5 139.0,390.0 144.0,393.5 148.4,395.4 152.1,397.9 154.6,400.3 157.6,399.1 160.1,394.8 162.6,392.3 165.7,389.8 168.2,388.6 170.6,392.3 173.1,397.2 175.6,397.9 176.8,402.2 178.7,406.5 181.1,402.8 183.6,401.0 186.1,398.5 188.5,396.0 191.6,393.5 194.7,390.5 197.5,388.8 199.9,387.6 201.8,383.3 204.3,380.2 206.7,382.6 209.2,380.8 213.0,380.0 217.0,381.0 221.0,380.0 224.7,380.2 227.1,382.0 229.6,387.6 232.1,393.2 233.9,395.6 236.4,394.4 238.3,398.1 240.1,395.6 241.7,392.5 243.8,393.8 246.3,395.0 248.8,398.1 251.2,400.6 253.7,404.3 255.6,406.1 258.0,403.7 260.0,403.5 263.7,404.2 267.4,404.8 270.5,406.0 272.4,401.1 273.8,397.4 275.5,402.3 277.1,406.6 278.5,398.6 280.0,393.0 281.6,396.7 283.5,402.3 285.3,408.5 286.8,412.8 288.2,408.5 289.7,405.4 292.8,406.0 295.8,401.7 299.6,401.7 302.6,401.7 305.7,396.7 308.8,394.3 311.9,392.4 315.0,394.3 318.1,396.4 321.2,396.4 323.0,393.7 324.9,389.3" fill="none" stroke="#a5a5a5" stroke-width="2.5" stroke-linejoin="round" stroke-linecap="butt" />
<polyline points="39.7,400.3 41.2,404.7 44.3,407.8 46.7,400.3 48.0,398.5 50.5,400.3 52.3,397.9 54.8,396.0 56.6,402.2 57.9,404.7 61.0,404.7 64.0,404.0 66.5,398.5 68.4,392.3 70.0,389.2 71.5,393.5 73.3,397.2 75.8,399.7 78.9,398.5 81.4,396.0 83.8,392.3 85.7,390.5 87.5,401.0 89.0,409.6 91.2,402.2 93.1,393.5 95.6,385.5 97.4,388.6 99.3,392.3 101.1,401.0 102.4,410.8 103.6,424.4 104.8,433.1 106.1,439.3 107.9,441.8 109.8,437.4 111.6,429.4 112.9,414.6 114.7,401.6 117.5,399.1 120.6,395.4 122.4,401.0 124.3,405.9 126.7,406.5 128.6,403.4 130.5,393.5 132.3,387.4 134.8,388.6 136.6,394.8 138.5,398.5 140.3,401.6 142.2,393.5 144.0,386.1 146.5,381.8 149.6,381.2 152.1,379.3 153.9,380.6 155.8,387.4 157.6,394.8 159.3,397.2 160.7,391.1 162.6,386.7 164.4,391.1 165.7,398.5 167.5,405.9 169.4,413.3 171.2,421.4 173.1,423.2 175.6,424.4 176.8,418.3 178.7,412.1 180.5,409.6 182.4,410.8 183.6,415.8 185.2,419.5 186.7,414.6 188.5,410.8 191.0,405.9 193.5,402.8 196.0,399.1 198.1,395.6 200.6,396.2 203.7,400.6 205.5,391.9 207.4,383.3 209.8,381.4 212.9,380.2 215.4,375.8 217.9,368.4 220.3,366.6 222.8,366.0 225.3,365.3 227.1,362.2 229.0,356.7 232.1,356.1 233.9,361.0 235.8,367.8 237.6,356.1 238.9,349.9 241.4,351.1 243.2,357.3 245.1,363.5 246.9,369.7 248.5,374.0 250.0,369.7 251.2,366.0 253.7,366.6 256.2,369.0 258.0,371.5 259.9,368.4 262.5,364.7 264.3,361.0 266.2,354.8 267.7,349.8 270.5,350.8 273.6,350.8 275.5,356.0 277.3,362.2 279.2,367.8 280.4,369.6 282.9,367.1 284.7,364.0 286.6,359.7 288.2,351.1 289.7,343.0 290.9,351.1 292.1,361.0 293.4,365.9 295.2,370.8 296.5,372.1 298.9,371.5 300.8,375.8 302.6,378.9 304.3,368.4 305.7,361.0 307.6,368.4 309.1,372.1 310.7,370.8 312.5,367.8 313.8,362.2 315.3,357.2 316.9,355.4 318.7,352.3 320.3,348.6 321.6,346.1 323.7,347.4 325.3,349.2 326.7,359.7 328.0,367.1" fill="none" stroke="#4472c4" stroke-width="2.5" stroke-linejoin="round" stroke-linecap="butt" />
<polyline points="39.7,417.6 41.2,423.8 42.4,424.4 44.9,422.0 46.7,414.6 48.6,410.8 51.1,408.4 52.9,401.6 54.8,392.3 57.2,384.9 60.3,388.0 63.7,384.9 65.3,391.1 66.9,396.6 69.6,396.0 72.1,395.4 73.9,398.5 75.8,409.6 77.6,419.5 79.5,428.2 82.0,423.2 83.2,424.4 84.4,434.3 85.7,442.4 87.5,457.2 89.4,473.3 91.2,486.9 92.5,493.7 93.7,484.4 95.6,472.0 97.4,464.6 98.7,460.9 101.1,465.2 103.6,465.8 105.5,465.8 107.9,472.6 109.8,465.8 111.6,460.9 113.5,465.8 115.1,470.2 116.6,454.7 117.8,444.8 119.9,435.6 122.4,426.9 124.3,424.4 126.1,428.2 127.4,430.6 129.2,417.0 131.1,401.0 132.9,389.8 134.8,385.5 137.0,383.0 138.5,386.1 140.3,389.2 142.8,390.5 145.3,391.7 147.8,393.5 150.2,397.2 152.7,402.2 154.6,407.1 156.4,412.1 158.9,412.1 162.0,411.5 163.2,418.3 164.4,425.7 165.7,431.2 166.9,425.7 168.2,417.0 170.0,408.4 171.9,404.0 173.7,406.5 175.6,409.6 177.4,413.3 179.3,410.8 181.1,406.5 183.6,408.4 186.1,410.2 187.9,407.8 189.8,403.4 191.6,398.5 194.1,392.3 195.6,403.4 196.9,413.5 199.9,412.3 203.7,411.1 206.7,408.0 209.8,407.4 210.5,399.3 212.3,389.4 214.8,387.0 217.2,384.5 219.1,383.3 221.0,385.1 222.8,390.7 224.7,398.1 225.9,403.7 228.4,403.0 230.2,406.1 232.1,411.7 233.6,406.1 234.6,398.1 236.4,385.7 237.6,378.3 238.9,375.8 240.1,380.8 242.0,387.0 243.8,393.2 245.7,398.1 246.3,399.9 248.2,406.1 249.4,413.5 251.2,424.7 254.3,427.1 258.0,430.2 261.1,434.6 264.3,433.8 267.4,433.8 270.5,435.1 273.6,436.3 275.5,443.1 277.3,450.5 280.4,446.8 282.9,444.3 284.7,439.4 286.6,434.4 287.8,439.4 289.7,446.8 292.8,446.6 295.8,446.2 297.7,443.1 299.6,440.0 302.6,439.4 304.5,445.6 306.5,455.0 309.1,467.3 311.5,458.0 313.8,452.0 315.6,445.6 317.5,440.0 318.7,437.5 320.6,438.1 322.4,439.4" fill="none" stroke="#ed7d31" stroke-width="2.5" stroke-linejoin="round" stroke-linecap="butt" />
<rect x="39" y="334" width="1" height="160" fill="#8c8c8c"/>
<rect x="39" y="493" width="290" height="1" fill="#8c8c8c"/>
<rect x="34" y="334" width="5" height="1" fill="#8c8c8c"/>
<text transform="translate(26.5,338.85) scale(1,0.93)" font-size="15.05" text-anchor="end" font-family='"Liberation Serif","Noto Sans CJK SC",serif' fill="#000" >100</text>
<rect x="34" y="366" width="5" height="1" fill="#8c8c8c"/>
<text transform="translate(26.5,370.85) scale(1,0.93)" font-size="15.05" text-anchor="end" font-family='"Liberation Serif","Noto Sans CJK SC",serif' fill="#000" >90</text>
<rect x="34" y="398" width="5" height="1" fill="#8c8c8c"/>
<text transform="translate(26.5,402.85) scale(1,0.93)" font-size="15.05" text-anchor="end" font-family='"Liberation Serif","Noto Sans CJK SC",serif' fill="#000" >80</text>
<rect x="34" y="429" width="5" height="1" fill="#8c8c8c"/>
<text transform="translate(26.5,433.85) scale(1,0.93)" font-size="15.05" text-anchor="end" font-family='"Liberation Serif","Noto Sans CJK SC",serif' fill="#000" >70</text>
<rect x="34" y="461" width="5" height="1" fill="#8c8c8c"/>
<text transform="translate(26.5,465.85) scale(1,0.93)" font-size="15.05" text-anchor="end" font-family='"Liberation Serif","Noto Sans CJK SC",serif' fill="#000" >60</text>
<rect x="34" y="493" width="5" height="1" fill="#8c8c8c"/>
<text transform="translate(26.5,497.85) scale(1,0.93)" font-size="15.05" text-anchor="end" font-family='"Liberation Serif","Noto Sans CJK SC",serif' fill="#000" >50</text>
<text transform="translate(39.6,515.8) scale(1,0.93)" font-size="15.05" text-anchor="middle" font-family='"Liberation Serif","Noto Sans CJK SC",serif' fill="#000" >2018</text>
<text transform="translate(205.6,515.8) scale(1,0.93)" font-size="15.05" text-anchor="middle" font-family='"Liberation Serif","Noto Sans CJK SC",serif' fill="#000" >2019</text>
<line x1="96.5" y1="323.8" x2="126" y2="323.8" stroke="#a5a5a5" stroke-width="2.6" stroke-linecap="round"/>
<text transform="translate(129.3,329.2) scale(1,0.93)" font-size="15.55" text-anchor="start" font-family='"Liberation Serif","Noto Sans CJK SC",serif' fill="#000" >亚洲PX</text>
<line x1="96.5" y1="350" x2="126" y2="350" stroke="#4472c4" stroke-width="2.6" stroke-linecap="round"/>
<text transform="translate(129.3,355.4) scale(1,0.93)" font-size="15.55" text-anchor="start" font-family='"Liberation Serif","Noto Sans CJK SC",serif' fill="#000" >PTA负荷</text>
<line x1="96.5" y1="375.3" x2="126" y2="375.3" stroke="#ed7d31" stroke-width="2.6" stroke-linecap="round"/>
<text transform="translate(129.3,380.7) scale(1,0.93)" font-size="15.55" text-anchor="start" font-family='"Liberation Serif","Noto Sans CJK SC",serif' fill="#000" >MEG负荷<tspan dx="-3">（</tspan><tspan dx="3">总</tspan>）</text>
<polyline points="404.7,370.2 406.2,367.1 408.7,370.2 411.1,370.8 413.0,375.8 414.6,379.5 416.7,380.1 418.5,386.9 420.0,391.9 422.9,395.6 425.3,398.7 427.2,391.9 429.0,382.0 430.9,372.1 433.4,366.5 435.8,361.6 438.9,361.0 442.0,360.3 444.5,356.6 447.0,350.5 449.4,347.0 451.9,347.4 453.8,348.3 456.2,347.4 458.7,346.1 461.2,347.4 464.3,348.6 466.1,353.5 467.1,357.0 468.6,352.3 469.8,349.8 472.3,351.7 473.9,357.2 475.4,362.2 477.6,363.7 479.7,361.6 482.5,357.4 485.6,353.7 488.7,353.0 490.5,355.5 492.4,359.2 494.8,361.7 497.9,365.4 501.0,367.9 503.5,369.1 505.3,374.0 506.9,380.8 508.4,389.5 510.3,398.2 511.9,403.7 514.0,401.2 516.5,396.9 518.9,391.4 520.8,385.2 522.6,379.0 524.5,375.9 527.6,375.9 529.4,378.4 530.9,381.5 533.2,379.0 535.6,376.5 538.7,375.3 541.6,372.8 543.7,374.7 545.5,377.8 547.4,381.5 549.2,385.2 551.7,387.0 553.5,388.3 555.4,392.0 556.5,397.0 557.8,401.2 559.7,408.6 561.5,416.0 564.6,414.5 567.1,413.3 568.1,407.4 568.9,401.2 570.6,390.7 572.4,382.1 574.9,375.9 577.4,370.3 580.5,368.5 582.3,364.8 584.2,361.7 587.2,362.3 589.7,363.3 592.2,362.9 594.7,360.1 597.8,361.1 600.2,362.3 602.1,366.0 603.9,370.3 606.4,375.3 608.3,375.9 610.1,373.4 612.6,369.7 614.4,367.2 617.5,365.4 620.0,362.9 622.7,359.8 624.3,362.3 626.2,367.2 628.0,372.2 630.5,378.4 633.6,381.7 636.1,380.2 639.2,377.1 641.6,372.2 643.5,367.9 645.3,364.8 647.8,364.2 650.9,364.8 653.4,364.5 656.0,362.5" fill="none" stroke="#4472c4" stroke-width="2.8" stroke-linejoin="round" stroke-linecap="butt" />
<polyline points="404.7,386.3 406.8,388.8 409.3,391.9 411.1,395.6 413.0,399.9 414.6,406.1 415.8,419.7 417.3,438.3 418.8,452.4 419.5,464.7 420.1,477.1 422.9,473.4 425.6,469.0 426.6,458.5 427.8,448.7 428.8,438.0 429.4,423.4 430.3,411.1 430.9,401.2 431.5,390.0 432.8,377.0 434.6,370.8 437.1,368.4 439.6,367.4 443.3,367.1 447.6,367.1 449.4,364.7 451.9,364.9 453.8,365.3 456.2,364.0 458.7,362.4 461.2,363.7 463.0,366.5 464.9,370.2 466.7,373.3 469.2,374.8 472.9,374.8 476.0,374.6 477.9,374.8 479.7,377.6 481.6,379.5 484.3,378.4 486.2,374.7 488.7,369.1 491.7,367.9 493.0,375.3 494.8,389.5 496.7,382.1 497.9,379.0 500.4,378.4 501.6,385.8 502.9,396.3 505.3,397.5 507.8,400.6 509.7,405.6 510.9,411.1 511.9,412.8 512.8,406.8 514.0,394.4 515.2,382.1 516.7,372.2 519.6,372.8 522.0,375.9 525.1,380.8 526.4,388.3 528.2,396.9 530.7,399.4 531.9,394.4 533.4,388.9 535.0,389.5 536.6,391.4 538.1,388.3 540.0,385.2 542.4,384.6 544.9,384.6 546.7,388.3 548.6,390.7 550.5,393.2 552.9,401.2 554.7,407.4 556.0,416.0 556.6,427.1 557.4,439.5 558.4,452.4 559.4,464.7 560.3,477.1 561.5,488.8 563.4,479.6 565.2,472.1 567.1,464.7 568.3,454.8 569.3,440.0 570.5,419.7 571.4,405.0 571.8,394.4 573.0,379.6 574.9,367.2 577.4,363.5 580.5,362.3 583.5,362.3 586.0,364.8 589.1,367.9 592.2,369.7 594.7,372.8 596.5,378.4 598.4,384.6 600.2,389.5 602.1,392.6 604.6,394.4 606.4,393.2 608.3,389.5 611.4,385.8 614.4,381.5 616.9,375.9 619.4,371.6 621.9,372.8 623.7,375.9 625.6,379.6 627.4,383.3 628.7,388.3 629.9,394.4 631.1,400.0 633.6,398.2 636.1,399.4 637.9,396.9 639.8,392.6 641.0,385.8 642.3,380.8 644.7,378.4 647.8,377.4 650.3,376.9 651.5,379.6 653.0,384.6" fill="none" stroke="#ed7d31" stroke-width="2.8" stroke-linejoin="round" stroke-linecap="butt" />
<rect x="404" y="338" width="1" height="160" fill="#8c8c8c"/>
<rect x="656" y="338" width="1" height="160" fill="#8c8c8c"/>
<rect x="404" y="497" width="252" height="1" fill="#8c8c8c"/>
<rect x="399" y="338" width="5" height="1" fill="#8c8c8c"/>
<rect x="656" y="338" width="5" height="1" fill="#8c8c8c"/>
<text transform="translate(391,343.15000000000003) scale(1,0.93)" font-size="15.05" text-anchor="end" font-family='"Liberation Serif","Noto Sans CJK SC",serif' fill="#000" >100</text>
<text transform="translate(670.5,343.15000000000003) scale(1,0.93)" font-size="15.05" text-anchor="start" font-family='"Liberation Serif","Noto Sans CJK SC",serif' fill="#000" >100</text>
<rect x="399" y="370" width="5" height="1" fill="#8c8c8c"/>
<rect x="656" y="370" width="5" height="1" fill="#8c8c8c"/>
<text transform="translate(391,375.15000000000003) scale(1,0.93)" font-size="15.05" text-anchor="end" font-family='"Liberation Serif","Noto Sans CJK SC",serif' fill="#000" >90</text>
<text transform="translate(670.5,375.15000000000003) scale(1,0.93)" font-size="15.05" text-anchor="start" font-family='"Liberation Serif","Noto Sans CJK SC",serif' fill="#000" >80</text>
<rect x="399" y="402" width="5" height="1" fill="#8c8c8c"/>
<rect x="656" y="402" width="5" height="1" fill="#8c8c8c"/>
<text transform="translate(391,407.15000000000003) scale(1,0.93)" font-size="15.05" text-anchor="end" font-family='"Liberation Serif","Noto Sans CJK SC",serif' fill="#000" >80</text>
<text transform="translate(670.5,407.15000000000003) scale(1,0.93)" font-size="15.05" text-anchor="start" font-family='"Liberation Serif","Noto Sans CJK SC",serif' fill="#000" >60</text>
<rect x="399" y="433" width="5" height="1" fill="#8c8c8c"/>
<rect x="656" y="433" width="5" height="1" fill="#8c8c8c"/>
<text transform="translate(391,438.15000000000003) scale(1,0.93)" font-size="15.05" text-anchor="end" font-family='"Liberation Serif","Noto Sans CJK SC",serif' fill="#000" >70</text>
<text transform="translate(670.5,438.15000000000003) scale(1,0.93)" font-size="15.05" text-anchor="start" font-family='"Liberation Serif","Noto Sans CJK SC",serif' fill="#000" >40</text>
<rect x="399" y="465" width="5" height="1" fill="#8c8c8c"/>
<rect x="656" y="465" width="5" height="1" fill="#8c8c8c"/>
<text transform="translate(391,470.15000000000003) scale(1,0.93)" font-size="15.05" text-anchor="end" font-family='"Liberation Serif","Noto Sans CJK SC",serif' fill="#000" >60</text>
<text transform="translate(670.5,470.15000000000003) scale(1,0.93)" font-size="15.05" text-anchor="start" font-family='"Liberation Serif","Noto Sans CJK SC",serif' fill="#000" >20</text>
<rect x="399" y="497" width="5" height="1" fill="#8c8c8c"/>
<rect x="656" y="497" width="5" height="1" fill="#8c8c8c"/>
<text transform="translate(391,502.15000000000003) scale(1,0.93)" font-size="15.05" text-anchor="end" font-family='"Liberation Serif","Noto Sans CJK SC",serif' fill="#000" >50</text>
<text transform="translate(670.5,502.15000000000003) scale(1,0.93)" font-size="15.05" text-anchor="start" font-family='"Liberation Serif","Noto Sans CJK SC",serif' fill="#000" >0</text>
<text transform="translate(404.3,519.6) scale(1,0.93)" font-size="15.05" text-anchor="middle" font-family='"Liberation Serif","Noto Sans CJK SC",serif' fill="#000" >2018</text>
<text transform="translate(550,519.6) scale(1,0.93)" font-size="15.05" text-anchor="middle" font-family='"Liberation Serif","Noto Sans CJK SC",serif' fill="#000" >2019</text>
<line x1="406" y1="328.2" x2="435" y2="328.2" stroke="#4472c4" stroke-width="3.4" stroke-linecap="round"/>
<text transform="translate(438.5,333.6) scale(1,0.93)" font-size="15.55" text-anchor="start" font-family='"Liberation Serif","Noto Sans CJK SC",serif' fill="#000" >聚酯负荷</text>
<line x1="520" y1="328.2" x2="549" y2="328.2" stroke="#ed7d31" stroke-width="3.4" stroke-linecap="round"/>
<text transform="translate(552,333.6) scale(1,0.93)" font-size="15.55" text-anchor="start" font-family='"Liberation Serif","Noto Sans CJK SC",serif' fill="#000" >江浙织机开机率</text>
</svg>
</body></html>
